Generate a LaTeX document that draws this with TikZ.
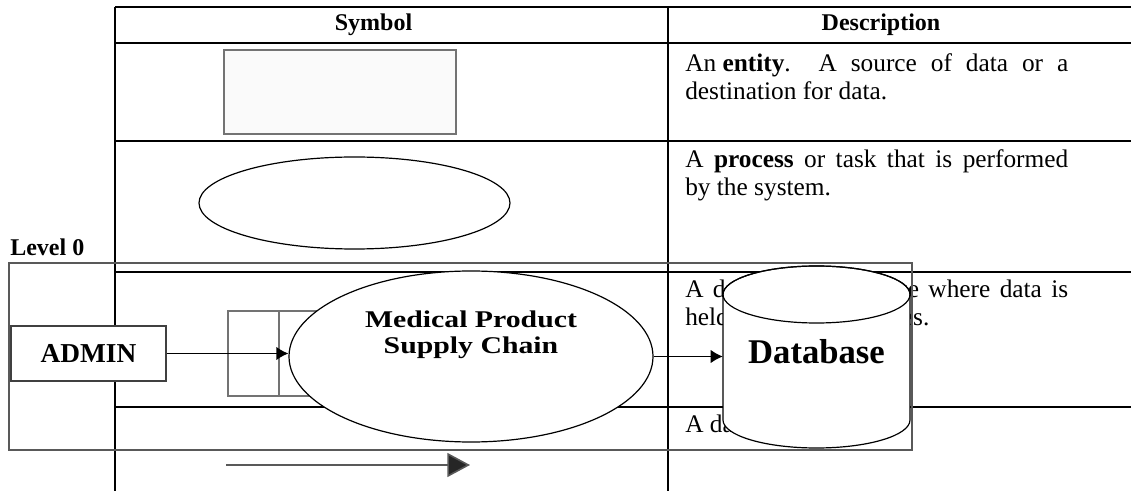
\documentclass[tikz,border=0pt]{standalone}
\usepackage{fontspec}
\setmainfont{Liberation Serif}
\newfontfamily\labelfont[FakeStretch=1.24]{Liberation Serif}
\usetikzlibrary{shapes.geometric,arrows.meta}

\tikzset{
  tline/.style={draw=black, line width=1pt},
  headtext/.style={anchor=base, inner sep=0pt, font={\bfseries\fontsize{18pt}{21pt}\selectfont}},
  desctext/.style={anchor=north west, inner sep=0pt, text width=287.25pt, align=justify,
    font={\fontsize{19pt}{21pt}\selectfont}},
  symgray/.style={draw=black!55, line width=1.1pt},
  levelframe/.style={draw=black!65, line width=1pt},
  entitybox/.style={rectangle, draw=black!75, line width=1pt, fill=white,
    minimum width=116.25pt, minimum height=41.25pt, inner sep=0pt,
    font={\bfseries\fontsize{20.5pt}{24pt}\selectfont}},
  processnode/.style={ellipse, draw=black, line width=0.9pt, fill=white,
    minimum width=273pt, minimum height=128.25pt, inner sep=0pt},
  proclabel/.style={align=center, inner sep=0pt,
    font={\labelfont\bfseries\fontsize{18pt}{19.5pt}\selectfont}},
  storelabel/.style={inner sep=0pt, minimum width=140.25pt,
    font={\bfseries\fontsize{26pt}{30pt}\selectfont}},
  cylbody/.style={draw=black, line width=0.9pt, fill=white},
  flow/.style={draw=black, line width=0.9pt, -{Latex[length=9pt,width=10pt]}},
}

\begin{document}
\begin{tikzpicture}[x=0.75pt, y=-0.75pt]
\useasboundingbox (0,0) rectangle (1131,491);

% ---------- legend table ----------
\draw[tline] (115,7) -- (1131,7);
\draw[tline] (115,43) -- (1131,43);
\draw[tline] (115,141) -- (1131,141);
\draw[tline] (115,272) -- (1131,272);
\draw[tline] (115,407) -- (1131,407);
\draw[tline] (115,7) -- (115,491);
\draw[tline] (668,7) -- (668,491);

\node[headtext] (hsym) at (373.5,31) {Symbol};
\node[headtext] (hdesc) at (881,31) {Description};

% entity symbol
\draw[symgray, fill=black!2] (224,50) rectangle (456,134);
% process symbol
\draw[draw=black, line width=0.9pt] (354.5,203) ellipse [x radius=155.5, y radius=46];
% data store symbol
\draw[symgray, line width=0.9pt] (228,311) rectangle (470,396);
\draw[symgray, line width=0.9pt] (279,311) -- (279,396);
% data flow symbol
\draw[draw=black!65, line width=1.2pt, -{Triangle[length=17pt,width=18pt,fill=black!85]}] (226,465) -- (470,465);

\node[desctext] (d1) at (685,53.7) {An\hspace{0.25em}\textbf{entity}.\ \ A source of data or a\linebreak destination for data.};
\node[desctext] (d2) at (685,149.7) {A \textbf{process} or task that is performed\linebreak by the system.};
\node[desctext] (d3) at (685,279.7) {A data store. A place where data is\linebreak held between processes.};
\node[desctext] (d4) at (685,414.7) {A data flow.};

% ---------- level 0 diagram ----------
\draw[levelframe] (9,263) rectangle (912,450);
\node[anchor=base west, inner sep=0pt, font={\bfseries\fontsize{18pt}{21pt}\selectfont}] (lvl) at (10,256) {Level 0};

\node[entitybox] (admin) at (88.5,353.5) {ADMIN};
\node[processnode] (proc) at (471,356.5) {};
\node[proclabel] (proctext) at (471,335) {Medical Product\\Supply Chain};

% database cylinder
\path[cylbody] (723,294.5) -- (723,420)
  arc[start angle=180, end angle=0, x radius=93.5, y radius=28]
  -- (910,294.5)
  arc[start angle=0, end angle=-180, x radius=93.5, y radius=28.5] -- cycle;
\draw[draw=black, line width=0.9pt] (816.5,294.5) ellipse [x radius=93.5, y radius=28.5];
\node[storelabel] (db) at (816.5,352) {Database};

% data flows
\draw[flow] (admin.east) -- (admin.east -| proc.west);
\draw[flow] (proc.east) -- (proc.east -| db.west);
\end{tikzpicture}
\end{document}
